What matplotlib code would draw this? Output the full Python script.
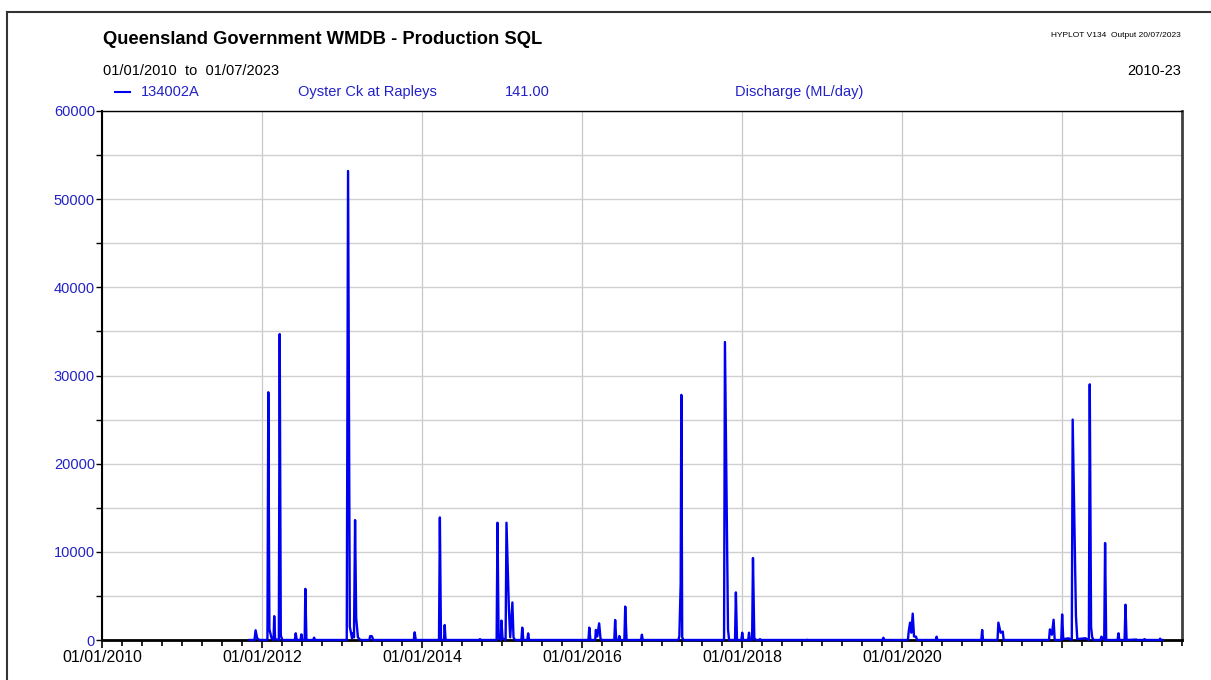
import matplotlib
matplotlib.use('Agg')
import matplotlib.pyplot as plt
import matplotlib.dates as mdates
from matplotlib.lines import Line2D
from matplotlib.ticker import MultipleLocator
import pandas as pd

plt.rcParams['font.family'] = ['Liberation Sans', 'DejaVu Sans']

dates = [
    '2011-11-05', '2011-11-28', '2011-12-03', '2011-12-10', '2011-12-20',
    '2012-01-26', '2012-01-30', '2012-02-04', '2012-02-14', '2012-02-23',
    '2012-02-26', '2012-03-01', '2012-03-18', '2012-03-22', '2012-03-27',
    '2012-04-03', '2012-05-30', '2012-06-03', '2012-06-08', '2012-06-25',
    '2012-06-29', '2012-07-03', '2012-07-14', '2012-07-17', '2012-07-22',
    '2012-08-22', '2012-08-26', '2012-08-30',
    '2013-01-22', '2013-01-28', '2013-02-05', '2013-02-15', '2013-02-19',
    '2013-02-24', '2013-03-01', '2013-03-06', '2013-03-14', '2013-03-25',
    '2013-05-05', '2013-05-09', '2013-05-17', '2013-05-23', '2013-11-24',
    '2013-11-28', '2013-12-03',
    '2014-03-19', '2014-03-23', '2014-03-28', '2014-04-11', '2014-04-14',
    '2014-04-18', '2014-09-19', '2014-09-22', '2014-09-26', '2014-12-07',
    '2014-12-11', '2014-12-16', '2014-12-26', '2014-12-29',
    '2015-01-03', '2015-01-17', '2015-01-21', '2015-02-01', '2015-02-07',
    '2015-02-17', '2015-02-22', '2015-03-01', '2015-03-30', '2015-04-03',
    '2015-04-08', '2015-04-26', '2015-04-30', '2015-05-04',
    '2016-01-30', '2016-02-03', '2016-02-08', '2016-03-01', '2016-03-04',
    '2016-03-10', '2016-03-19', '2016-03-25', '2016-03-30', '2016-05-27',
    '2016-05-31', '2016-06-05', '2016-06-16', '2016-06-19', '2016-06-23',
    '2016-07-12', '2016-07-16', '2016-07-22', '2016-09-26', '2016-09-30',
    '2016-10-04',
    '2017-03-16', '2017-03-20', '2017-03-26', '2017-03-29', '2017-04-02',
    '2017-04-08', '2017-10-10', '2017-10-14', '2017-10-28', '2017-11-02',
    '2017-11-29', '2017-12-03', '2017-12-08', '2017-12-28',
    '2018-01-01', '2018-01-05', '2018-01-28', '2018-02-01', '2018-02-05',
    '2018-02-15', '2018-02-19', '2018-02-25', '2018-03-05', '2018-03-20',
    '2018-03-23', '2018-03-27', '2018-10-22', '2018-10-25', '2018-10-29',
    '2019-10-03', '2019-10-07', '2019-10-12',
    '2020-01-27', '2020-01-31', '2020-02-06', '2020-02-12', '2020-02-18',
    '2020-02-24', '2020-03-04', '2020-03-09', '2020-06-02', '2020-06-06',
    '2020-06-10', '2020-12-27', '2020-12-31',
    '2021-01-04', '2021-03-11', '2021-03-15', '2021-03-25', '2021-04-04',
    '2021-04-08', '2021-11-01', '2021-11-05', '2021-11-14', '2021-11-22',
    '2021-11-27', '2021-12-27', '2021-12-31',
    '2022-01-05', '2022-01-30', '2022-02-13', '2022-02-17', '2022-03-04',
    '2022-03-10', '2022-04-16', '2022-05-02', '2022-05-06', '2022-05-12',
    '2022-05-17', '2022-05-24', '2022-06-24', '2022-06-28', '2022-07-11',
    '2022-07-15', '2022-07-20', '2022-09-10', '2022-09-14', '2022-09-18',
    '2022-10-12', '2022-10-16', '2022-10-21', '2022-12-04', '2022-12-10',
    '2023-01-08', '2023-01-11', '2023-01-15', '2023-03-20', '2023-03-23',
    '2023-03-27', '2023-04-03',
]
flows = [
    0, 0, 1100, 200, 0,
    0, 28100, 1200, 200, 0,
    2700, 100, 0, 34700, 500,
    0, 0, 760, 0, 0,
    640, 0, 0, 5800, 0,
    0, 270, 0,
    0, 53200, 1500, 200, 760,
    300, 13600, 2500, 300, 0,
    0, 450, 420, 0, 0,
    870, 0,
    0, 13900, 0, 0, 1700,
    0, 0, 100, 0, 0,
    13300, 300, 0, 2200,
    200, 0, 13300, 3500, 300,
    4260, 300, 0, 0, 1400,
    0, 0, 750, 0,
    0, 1400, 0, 0, 1140,
    400, 1890, 200, 0, 0,
    2270, 0, 0, 450, 0,
    0, 3790, 0, 0, 600,
    0,
    0, 450, 6400, 27800, 300,
    0, 0, 33800, 1200, 0,
    0, 5400, 0, 0,
    830, 0, 0, 830, 0,
    0, 9300, 200, 0, 0,
    100, 0, 0, 30, 0,
    0, 260, 0,
    0, 1020, 1970, 830, 2990,
    400, 380, 0, 0, 380,
    0, 0, 1140,
    0, 0, 1970, 830, 950,
    0, 0, 1200, 600, 2300,
    0, 0, 2900,
    100, 190, 0, 25000, 2700,
    100, 200, 0, 29000, 1500,
    300, 0, 0, 380, 0,
    11000, 0, 0, 760, 0,
    0, 4000, 0, 50, 0,
    0, 100, 0, 0, 150,
    0, 0,
]

tick_dates = ['2010-01-01', '2012-01-01', '2014-01-01', '2016-01-01',
              '2018-01-01', '2020-01-01', '2022-01-01']
tick_labels = ['01/01/2010', '01/01/2012', '01/01/2014', '01/01/2016',
               '01/01/2018', '01/01/2020', '']

W, H = 1211, 680
blue = '#0000f0'
text_blue = '#2222c8'


def fx(px):
    return px / W


def fy(py):
    return 1 - py / H


def main():
    t = pd.to_datetime(dates)
    fig = plt.figure(figsize=(W / 100, H / 100), dpi=100)
    ax = fig.add_axes([fx(102), fy(640), fx(1182) - fx(102), fy(111) - fy(640)])

    ax.plot(t, flows, color=blue, lw=1.7, zorder=3, clip_on=False)

    ax.set_xlim(pd.Timestamp('2010-01-01'), pd.Timestamp('2023-07-01'))
    ax.set_ylim(0, 60000)

    ax.set_xticks(pd.to_datetime(tick_dates))
    ax.set_xticklabels(tick_labels)
    ax.xaxis.set_minor_locator(mdates.MonthLocator(bymonth=[1, 4, 7, 10]))
    ax.yaxis.set_major_locator(MultipleLocator(10000))
    ax.yaxis.set_minor_locator(MultipleLocator(5000))

    ax.tick_params(axis='x', which='major', direction='out', length=6, width=1.2,
                   labelsize=11.5, labelcolor='black', pad=1)
    ax.tick_params(axis='x', which='minor', direction='out', length=4, width=1.2)
    ax.tick_params(axis='y', which='both', direction='out', length=4, width=1,
                   labelsize=10.5, labelcolor=text_blue, pad=1)

    ax.grid(True, axis='x', which='major', color='#c8c8c8', lw=0.9)
    ax.grid(True, axis='y', which='both', color='#d0d0d0', lw=1)
    ax.set_axisbelow(True)

    ax.spines['left'].set_linewidth(1.5)
    ax.spines['bottom'].set_linewidth(2)
    ax.spines['top'].set_linewidth(1)
    ax.spines['right'].set_linewidth(2)
    ax.spines['right'].set_color('#404040')

    # header
    fig.text(fx(103), fy(44), 'Queensland Government WMDB - Production SQL',
             fontsize=13.2, fontweight='bold', ha='left', va='baseline')
    fig.text(fx(103), fy(75), '01/01/2010  to  01/07/2023', fontsize=10.5,
             ha='left', va='baseline')
    fig.text(fx(1181), fy(37), 'HYPLOT V134  Output 20/07/2023', fontsize=6,
             ha='right', va='baseline')
    fig.text(fx(1181), fy(75), '2010-23', fontsize=10.5, ha='right', va='baseline')

    # series legend row
    fig.add_artist(Line2D([fx(115), fx(130)], [fy(92), fy(92)], color=blue, lw=1.5))
    legend_y = fy(96)
    fig.text(fx(141), legend_y, '134002A', fontsize=10.5, color=text_blue, va='baseline')
    fig.text(fx(298), legend_y, 'Oyster Ck at Rapleys', fontsize=10.5, color=text_blue, va='baseline')
    fig.text(fx(505), legend_y, '141.00', fontsize=10.5, color=text_blue, va='baseline')
    fig.text(fx(735), legend_y, 'Discharge (ML/day)', fontsize=10.5, color=text_blue, va='baseline')

    # page frame (top and left edges visible)
    fig.add_artist(Line2D([fx(7), 1], [fy(12), fy(12)], color='#333333', lw=1.5))
    fig.add_artist(Line2D([fx(7), fx(7)], [fy(12), 0], color='#333333', lw=1.5))

    fig.savefig('out.png', dpi=100)


if __name__ == '__main__':
    main()
